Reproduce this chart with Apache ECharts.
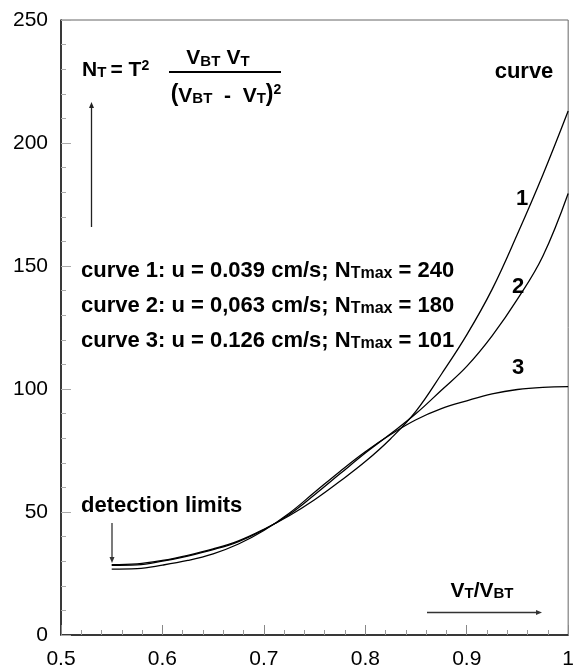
<!DOCTYPE html>
<html>
<head>
<meta charset="utf-8">
<script src="https://cdn.jsdelivr.net/npm/echarts@6/dist/echarts.min.js"></script>
<style>
html,body{margin:0;padding:0;background:#fff;}
#chart{width:577px;height:671px;}
</style>
</head>
<body>
<div id="chart"></div>
<script>
// ---- data ----
var xValues = [0.55, 0.575, 0.6, 0.625, 0.65, 0.675, 0.7, 0.725, 0.75, 0.775, 0.8, 0.825, 0.85, 0.875, 0.9, 0.925, 0.95, 0.975, 1.0];
var curve1 = [28.6, 28.9, 30.3, 32.4, 35.0, 38.3, 43.0, 48.5, 55.0, 62.5, 70.5, 79.8, 91.0, 106.0, 122.0, 140.5, 163.0, 187.0, 213.0];
var curve2 = [28.3, 28.5, 30.0, 32.1, 34.7, 38.0, 42.8, 49.0, 57.0, 65.5, 74.0, 81.8, 90.0, 99.5, 109.2, 121.6, 136.5, 154.0, 179.5];
var curve3 = [26.8, 27.0, 28.4, 30.3, 33.0, 37.0, 42.5, 49.5, 58.0, 66.5, 74.5, 81.5, 87.5, 92.0, 95.2, 98.0, 99.8, 100.7, 101.0];
var curveNames = ['1', '2', '3'];
var infoLines = [
  ['1', '0.039', '240'],
  ['2', '0,063', '180'],
  ['3', '0.126', '101']
];
var xTicks = {min: 0.5, max: 1, interval: 0.1};
var yTicks = {min: 0, max: 250, interval: 50};

function pairs(xs, ys) { return xs.map(function (x, i) { return [x, ys[i]]; }); }

var FONT = '"Liberation Sans", Arial, Helvetica, sans-serif';
var chart = echarts.init(document.getElementById('chart'), null, {renderer: 'canvas'});

function lineSeries(name, ys) {
  return {
    name: name, type: 'line', data: pairs(xValues, ys), showSymbol: false, symbol: 'none',
    smooth: 0.4, lineStyle: {color: '#000', width: 1.3}, silent: true, z: 3
  };
}

var richBase = {
  b: {fontSize: 22, lineHeight: 22, fontWeight: 'bold', fontFamily: FONT, color: '#000', verticalAlign: 'bottom'},
  s: {fontSize: 16, lineHeight: 16, fontWeight: 'bold', fontFamily: FONT, color: '#000', verticalAlign: 'bottom'},
  N: {fontSize: 21, lineHeight: 21, fontWeight: 'bold', fontFamily: FONT, color: '#000', verticalAlign: 'bottom'},
  V: {fontSize: 21, lineHeight: 21, fontWeight: 'bold', fontFamily: FONT, color: '#000', verticalAlign: 'bottom'},
  t: {fontSize: 15, lineHeight: 15, fontWeight: 'bold', fontFamily: FONT, color: '#000', verticalAlign: 'bottom'},
  p: {fontSize: 23, lineHeight: 23, fontWeight: 'bold', fontFamily: FONT, color: '#000', verticalAlign: 'bottom'},
  sup: {fontSize: 14, lineHeight: 8, fontWeight: 'bold', fontFamily: FONT, color: '#000', verticalAlign: 'top'}
};

function richText(x, y, text, align, vAlign) {
  return {
    type: 'text', x: x, y: y, silent: true, z: 10,
    style: {text: text, rich: richBase, align: align || 'left', verticalAlign: vAlign || 'middle',
      fontFamily: FONT, fontWeight: 'bold', fontSize: 22, fill: '#000'}
  };
}
function plainText(x, y, text, size, align) {
  return {
    type: 'text', x: x, y: y, silent: true, z: 10,
    style: {text: text, align: align || 'left', verticalAlign: 'middle',
      fontFamily: FONT, fontWeight: 'bold', fontSize: size, fill: '#000'}
  };
}
function arrow(x1, y1, x2, y2, color) {
  var dx = x2 - x1, dy = y2 - y1, L = Math.sqrt(dx * dx + dy * dy);
  var ux = dx / L, uy = dy / L, hl = 6, hw = 2.5;
  var bx = x2 - ux * hl, by = y2 - uy * hl;
  return [
    {type: 'line', silent: true, z: 10, shape: {x1: x1, y1: y1, x2: bx, y2: by}, style: {stroke: color, lineWidth: 1.3}},
    {type: 'polygon', silent: true, z: 10, shape: {points: [[x2, y2], [bx - uy * hw, by + ux * hw], [bx + uy * hw, by - ux * hw]]}, style: {fill: color}}
  ];
}

var graphics = [];
// formula
graphics.push(richText(82, 70, '{N|N}{t|T }{N|= T}{sup|2}', 'left', 'middle'));
graphics.push(richText(218, 58, '{V|V}{t|BT} {V|V}{t|T}', 'center', 'middle'));
graphics.push({type: 'line', silent: true, z: 10, shape: {x1: 169, y1: 72, x2: 281, y2: 72}, style: {stroke: '#000', lineWidth: 2}});
graphics.push(richText(226, 95, '{p|(}{V|V}{t|BT}{V|  -  V}{t|T}{p|)}{sup|2}', 'center', 'middle'));
// vertical arrow
graphics = graphics.concat(arrow(91.5, 227, 91.5, 102, '#222'));
// info lines
var infoY = [271, 306, 341];
infoLines.forEach(function (l, i) {
  graphics.push(richText(81, infoY[i], '{b|curve ' + l[0] + ': u = ' + l[1] + ' cm/s; N}{s|Tmax}{b| = ' + l[2] + '}', 'left', 'middle'));
});
// curve labels
graphics.push(plainText(524, 72, 'curve', 22, 'center'));
graphics.push(plainText(522, 199, curveNames[0], 22, 'center'));
graphics.push(plainText(518, 287, curveNames[1], 22, 'center'));
graphics.push(plainText(518, 368, curveNames[2], 22, 'center'));
// detection limits
graphics.push(plainText(81, 506, 'detection limits', 22, 'left'));
graphics = graphics.concat(arrow(112, 523, 112, 563, '#333'));
// x label
graphics.push(richText(482, 591, '{V|V}{t|T}{V|/V}{t|BT}', 'center', 'middle'));
graphics = graphics.concat(arrow(427, 612.5, 542, 612.5, '#333'));

var option = {
  animation: false,
  backgroundColor: '#fff',
  grid: {left: 61, top: 20, width: 511, height: 615, show: true, borderColor: '#666', borderWidth: 1, backgroundColor: 'transparent'},
  xAxis: {
    type: 'value', min: xTicks.min, max: xTicks.max, interval: xTicks.interval,
    axisLine: {show: true, onZero: false, lineStyle: {color: '#111', width: 1.5}},
    axisTick: {show: true, inside: true, length: 10, lineStyle: {color: '#888', width: 1}},
    minorTick: {show: true, splitNumber: 5, length: 5, lineStyle: {color: '#999', width: 1}},
    splitLine: {show: false},
    axisLabel: {margin: 14, color: '#000', fontSize: 21, fontFamily: FONT,
      formatter: function (v) { return String(Math.round(v * 10) / 10); }}
  },
  yAxis: {
    type: 'value', min: yTicks.min, max: yTicks.max, interval: yTicks.interval,
    axisLine: {show: true, onZero: false, lineStyle: {color: '#111', width: 1.5}},
    axisTick: {show: true, inside: true, length: 10, lineStyle: {color: '#aaa', width: 1}},
    minorTick: {show: true, splitNumber: 5, length: 5, lineStyle: {color: '#aaa', width: 1}},
    splitLine: {show: false},
    axisLabel: {margin: 13, color: '#000', fontSize: 21, fontFamily: FONT}
  },
  series: [lineSeries('curve 1', curve1), lineSeries('curve 2', curve2), lineSeries('curve 3', curve3)],
  graphic: graphics
};
chart.setOption(option);
</script>
</body>
</html>
